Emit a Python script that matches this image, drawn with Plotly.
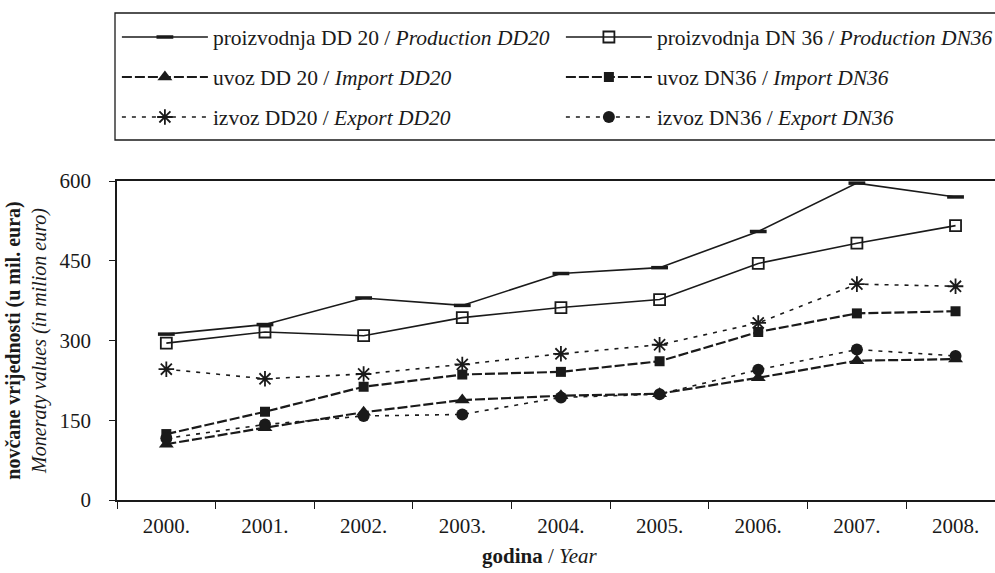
import plotly.graph_objects as go

years = ["2000.", "2001.", "2002.", "2003.", "2004.", "2005.", "2006.", "2007.", "2008."]
prod_dd20 = [312, 330, 380, 366, 426, 437, 505, 596, 570]
prod_dn36 = [295, 316, 309, 343, 362, 377, 445, 483, 516]
imp_dd20 = [105, 136, 165, 188, 196, 200, 230, 262, 265]
imp_dn36 = [124, 166, 213, 236, 241, 261, 316, 351, 355]
exp_dd20 = [246, 228, 237, 255, 275, 292, 333, 406, 402]
exp_dn36 = [116, 142, 158, 161, 193, 199, 245, 283, 271]

names = [
    "proizvodnja DD 20 / <i>Production DD20</i>",
    "proizvodnja DN 36 / <i>Production DN36</i>",
    "uvoz DD 20 / <i>Import DD20</i>",
    "uvoz DN36 / <i>Import DN36</i>",
    "izvoz DD20 / <i>Export DD20</i>",
    "izvoz DN36 / <i>Export DN36</i>",
]

FONT = "Liberation Serif"
K = "#1a1a1a"
W, H = 995, 573
ML, MR, MT, MB = 117, 0, 181, 73
PW, PH = W - ML - MR, H - MT - MB

def px_x(x):
    return (x - ML) / PW

def px_y(y):
    return (H - MB - y) / PH

fig = go.Figure()
styles = [
    (prod_dd20, "solid", 1.6, dict(symbol="line-ew", size=12, line=dict(width=3.5, color=K)), "legend"),
    (prod_dn36, "solid", 1.6, dict(symbol="square-open", size=11, color=K, line=dict(width=1.8, color=K)), "legend"),
    (imp_dd20, "10px,3px", 2.2, dict(symbol="triangle-up", size=13, color=K), "legend2"),
    (imp_dn36, "10px,3px", 2.2, dict(symbol="square", size=10, color=K), "legend2"),
    (exp_dd20, "4px,6px", 1.6, dict(symbol="asterisk-open", size=13, line=dict(width=1.8, color=K)), "legend3"),
    (exp_dn36, "4px,6px", 1.6, dict(symbol="circle", size=12, color=K), "legend3"),
]
for (vals, dash, w, mk, lg), nm in zip(styles, names):
    fig.add_trace(go.Scatter(
        x=years, y=vals, name=nm, mode="lines+markers", legend=lg,
        line=dict(color=K, width=w, dash=dash), marker=mk,
    ))

def leg(ypx):
    return dict(
        orientation="h", x=px_x(116.9), xanchor="left", y=px_y(ypx), yanchor="middle",
        entrywidth=343, entrywidthmode="pixels", itemwidth=86,
        borderwidth=0, bgcolor="rgba(0,0,0,0)",
        font=dict(family=FONT, size=21.5, color=K), itemsizing="trace",
    )

fig.update_layout(
    width=W, height=H,
    margin=dict(l=ML, r=MR, t=MT, b=MB, autoexpand=False),
    plot_bgcolor="white", paper_bgcolor="white",
    font=dict(family=FONT, size=21, color=K),
    showlegend=True,
    legend=leg(37), legend2=leg(77), legend3=leg(117),
    shapes=[dict(type="rect", xref="paper", yref="paper",
                 x0=px_x(115), x1=px_x(1000), y0=px_y(140), y1=px_y(13),
                 line=dict(color=K, width=1.3), layer="below")],
    annotations=[dict(text="<b>godina</b> / <i>Year</i>", xref="paper", yref="paper",
                      x=px_x(540), y=px_y(556), xanchor="center", yanchor="middle",
                      showarrow=False, font=dict(family=FONT, size=21, color=K))],
    xaxis=dict(
        type="category", range=[-0.5, 8.4], tickson="boundaries",
        ticks="outside", ticklen=7, tickcolor=K, showline=True, linecolor=K, linewidth=1.5,
        mirror=True, showgrid=False, tickfont=dict(family=FONT, size=21),
        ticklabelstandoff=6, automargin=False,
    ),
    yaxis=dict(
        range=[0, 600], dtick=150, ticks="outside", ticklen=6, tickcolor=K,
        showline=True, linecolor=K, linewidth=1.5, showgrid=False, zeroline=False,
        tickfont=dict(family=FONT, size=21), ticklabelstandoff=14, automargin=False,
        title=dict(text="<b>novčane vrijednosti (u mil. eura)</b><br><i>Moneraty values (in milion euro)</i>",
                   font=dict(family=FONT, size=20), standoff=8),
    ),
)

fig.write_html("out.html", config={"displayModeBar": False},
               post_script="document.body.style.margin='0px';")
